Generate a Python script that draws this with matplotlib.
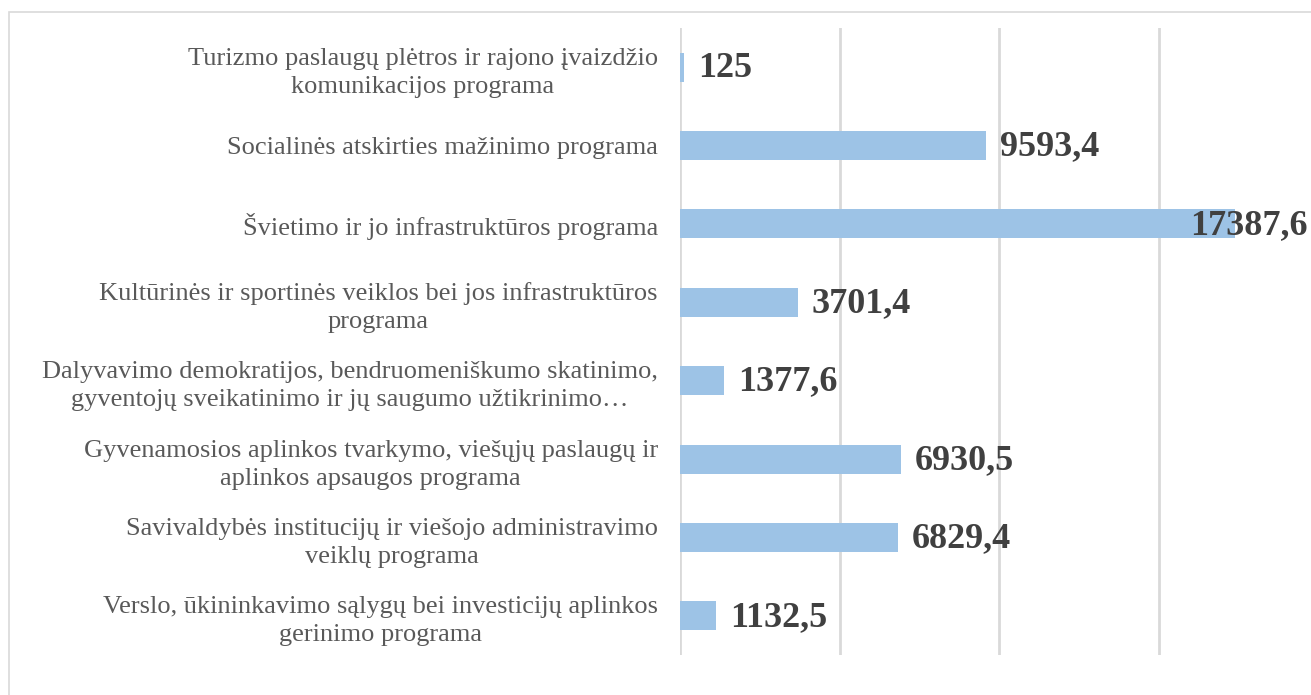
import matplotlib.pyplot as plt
from matplotlib.patches import Rectangle

# Programos (iš viršaus į apačią) ir jų vertės
programos = [
    "Turizmo paslaugų plėtros ir rajono įvaizdžio\nkomunikacijos programa",
    "Socialinės atskirties mažinimo programa",
    "Švietimo ir jo infrastruktūros programa",
    "Kultūrinės ir sportinės veiklos bei jos infrastruktūros\nprograma",
    "Dalyvavimo demokratijos, bendruomeniškumo skatinimo,\ngyventojų sveikatinimo ir jų saugumo užtikrinimo…",
    "Gyvenamosios aplinkos tvarkymo, viešųjų paslaugų ir\naplinkos apsaugos programa",
    "Savivaldybės institucijų ir viešojo administravimo\nveiklų programa",
    "Verslo, ūkininkavimo sąlygų bei investicijų aplinkos\ngerinimo programa",
]
vertes = [125, 9593.4, 17387.6, 3701.4, 1377.6, 6930.5, 6829.4, 1132.5]
x_ticks = [0, 5000, 10000, 15000, 20000]

W, H = 1311, 695
fig = plt.figure(figsize=(W / 100, H / 100), dpi=100)
plt.rcParams['font.family'] = ['Liberation Serif', 'DejaVu Serif']

# rėmelis aplink diagramą
fig.patches.append(Rectangle((8.5 / W, -0.05), 1.2, 1 - 11.5 / H + 0.05,
                             transform=fig.transFigure, fill=False,
                             edgecolor='#d9d9d9', lw=1.2))

ax = fig.add_axes([680 / W, 1 - 655 / H, 638 / W, 627 / H])
y = list(range(len(programos)))
ax.barh(y, vertes, height=0.37, color='#9dc3e6', zorder=2)
ax.set_xlim(0, 20000)
ax.set_ylim(len(programos) - 0.5, -0.5)
ax.set_xticks(x_ticks)
ax.set_xticklabels([])
ax.grid(axis='x', color='#d9d9d9', lw=2, zorder=0)
ax.tick_params(length=0)
ax.set_yticks(y)
ax.set_yticklabels(programos, fontsize=19, color='#595959',
                   multialignment='center', linespacing=1.35)
ax.tick_params(axis='y', pad=16)
for s in ax.spines.values():
    s.set_visible(False)

fig.canvas.draw()
r = fig.canvas.get_renderer()
for i, v in enumerate(vertes):
    etik = f"{v:g}".replace('.', ',')
    t = ax.annotate(etik, (v, i), xytext=(10, -1), textcoords='offset points',
                    va='center', ha='left', fontsize=26, fontweight='bold',
                    color='#404040', zorder=3)
    bb = t.get_window_extent(r)
    if bb.x1 > W - 3:
        t.set_position((10 - (bb.x1 - (W - 3)) * 72 / 100, -1))

fig.savefig('out.png', dpi=100)
